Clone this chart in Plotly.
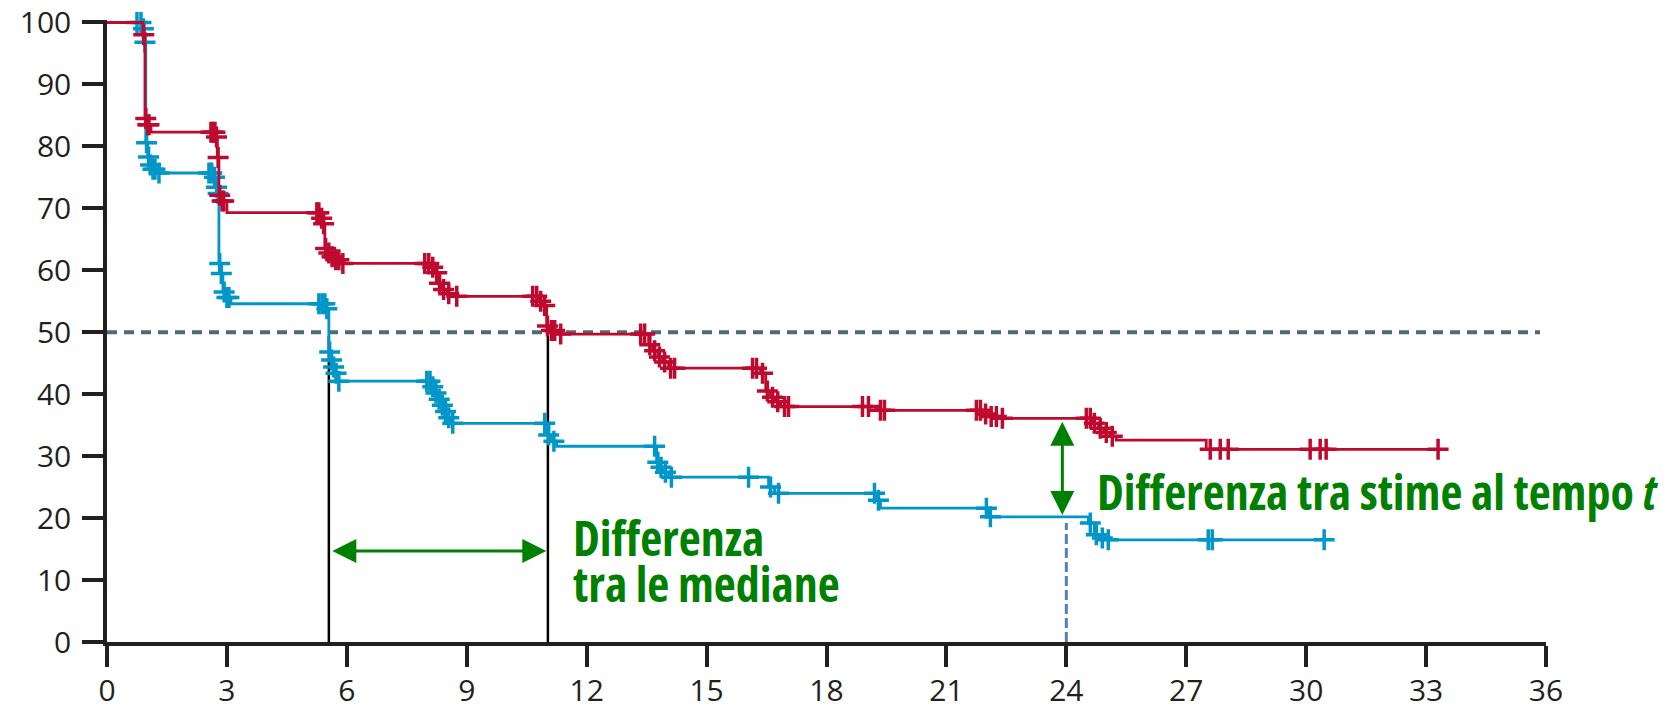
import numpy as np
import plotly.graph_objects as go

# Kaplan-Meier estimates (months vs. % surviving), two arms
red_drop_t = [0.90, 0.95, 1.00, 1.10, 2.72, 2.76, 2.80, 2.85, 3.00,
              5.35, 5.40, 5.45, 5.52, 5.60, 5.68, 5.85,
              8.10, 8.20, 8.28, 8.38, 8.50, 8.65,
              10.80, 10.90, 11.00, 11.08, 11.30,
              13.55, 13.65, 13.78, 13.90, 14.05,
              16.35, 16.48, 16.60, 16.72, 16.85, 19.25,
              21.90, 22.05, 22.30,
              24.65, 24.80, 24.95, 25.10, 25.25, 27.50]
red_level = [98.0, 84.5, 83.5, 82.3, 81.5, 78.2, 72.1, 71.2, 69.3,
             68.4, 67.5, 63.5, 62.8, 62.2, 61.7, 61.1,
             60.5, 59.6, 57.9, 56.9, 56.2, 55.8,
             55.0, 54.3, 51.0, 50.3, 49.7,
             48.0, 47.0, 46.0, 45.2, 44.2,
             43.4, 40.5, 39.5, 38.8, 38.0, 37.4,
             36.8, 36.4, 36.1,
             35.3, 34.5, 33.8, 33.2, 32.6, 31.1]
red_censor_t = [0.92, 0.97, 1.02, 1.05, 2.60, 2.65, 2.70, 2.74, 2.78, 2.82, 2.88, 2.92,
                5.25, 5.30, 5.37, 5.42, 5.47, 5.55, 5.63, 5.72, 5.80, 5.90,
                7.95, 8.05, 8.15, 8.25, 8.32, 8.42, 8.55, 8.75,
                10.65, 10.75, 10.85, 10.95, 11.02, 11.12, 11.20, 11.35,
                13.35, 13.45, 13.58, 13.70, 13.82, 13.95, 14.10, 14.20,
                16.15, 16.25, 16.40, 16.52, 16.65, 16.78, 16.95, 17.05,
                18.90, 19.05, 19.35, 19.45,
                21.75, 21.85, 21.98, 22.12, 22.25, 22.40,
                24.50, 24.60, 24.70, 24.85, 25.00, 25.15,
                27.60, 27.85, 28.05, 30.10, 30.35, 30.50, 33.30]
red_end = 33.30

blue_drop_t = [0.90, 0.93, 0.97, 1.02, 1.07, 1.12, 1.25,
               2.66, 2.72, 2.76, 2.80, 2.84, 2.90, 2.97, 3.10,
               5.48, 5.55, 5.60, 5.65, 5.70, 5.77,
               8.12, 8.20, 8.28, 8.36, 8.44, 8.52, 8.60,
               11.02, 11.12, 11.25,
               13.75, 13.82, 13.92, 14.05,
               16.55, 16.70, 19.25, 19.35, 22.05,
               24.55, 24.70, 24.85, 25.00]
blue_level = [99.0, 96.8, 80.6, 78.3, 77.0, 76.3, 75.7,
              75.0, 73.4, 72.4, 61.1, 59.5, 56.5, 55.6, 54.6,
              53.8, 46.8, 45.5, 44.4, 43.4, 42.1,
              41.2, 40.2, 39.2, 38.2, 37.2, 36.2, 35.3,
              33.4, 32.4, 31.6,
              29.0, 28.2, 27.4, 26.6,
              25.0, 24.0, 22.9, 21.6, 20.2,
              19.2, 17.3, 16.8, 16.5]
blue_censor_t = [0.75, 0.85, 0.91, 0.95, 0.99, 1.04, 1.09, 1.15, 1.20, 1.30,
                 2.55, 2.62, 2.69, 2.74, 2.78, 2.82, 2.86, 2.93, 3.00, 3.05,
                 5.30, 5.38, 5.45, 5.50, 5.57, 5.62, 5.67, 5.73, 5.80,
                 8.00, 8.08, 8.15, 8.23, 8.31, 8.39, 8.47, 8.55, 8.65,
                 10.95, 11.05, 11.18,
                 13.70, 13.78, 13.86, 13.97, 14.12,
                 16.05, 16.60, 16.80, 19.20, 19.30, 22.00, 22.10,
                 24.60, 24.75, 24.90, 25.05, 27.55, 27.65, 30.45]
blue_end = 30.45

median_months = [5.55, 11.03]   # blue, red
t_compare = 24.0

x_ticks = list(range(0, 37, 3))
y_ticks = list(range(0, 101, 10))

RED = "#BE0A2E"
BLUE = "#0096C8"
GREEN = "#008000"
AXIS = "#231F20"


def km_at(times, levels, t):
    idx = np.searchsorted(np.asarray(times), t, side="right") - 1
    return 100.0 if idx < 0 else levels[idx]


def step_xy(times, levels, end):
    xs = [0.0] + list(times) + [end]
    ys = [100.0] + list(levels) + [levels[-1]]
    return xs, ys


def condensed(s):
    # Open Sans ships a condensed width: select it for the callout labels
    return f'<span style="font-stretch:75%;">{s}</span>'


fig = go.Figure()

# reference line at 50 %
fig.add_trace(go.Scatter(x=[0, 35.85], y=[50, 50], mode="lines",
                         line=dict(color="#4E6B75", width=4, dash="10px,7px"),
                         hoverinfo="skip", showlegend=False))

# median drop lines
for m in median_months:
    fig.add_trace(go.Scatter(x=[m, m], y=[0, 49.4], mode="lines",
                             line=dict(color="black", width=2.5),
                             hoverinfo="skip", showlegend=False))

# estimates at time t: dashed drop line from the lower curve
blue_t = km_at(blue_drop_t, blue_level, t_compare)
red_t = km_at(red_drop_t, red_level, t_compare)
fig.add_trace(go.Scatter(x=[t_compare, t_compare], y=[0, blue_t - 1.0], mode="lines",
                         line=dict(color="#4F81BD", width=3, dash="10px,4px"),
                         hoverinfo="skip", showlegend=False))

for times, levels, end, cens, col in [
    (blue_drop_t, blue_level, blue_end, blue_censor_t, BLUE),
    (red_drop_t, red_level, red_end, red_censor_t, RED),
]:
    xs, ys = step_xy(times, levels, end)
    fig.add_trace(go.Scatter(x=xs, y=ys, mode="lines", line=dict(color=col, width=2.8, shape="hv"),
                             hoverinfo="skip", showlegend=False))
    cy = [km_at(times, levels, c) for c in cens]
    fig.add_trace(go.Scatter(x=cens, y=cy, mode="markers",
                             marker=dict(symbol="cross-thin", size=15, line=dict(color=col, width=3.5)),
                             cliponaxis=False, hoverinfo="skip", showlegend=False))

# difference between medians
fig.add_annotation(x=median_months[1] - 0.04, y=14.7, ax=median_months[0] + 0.05, ay=14.7,
                   xref="x", yref="y", axref="x", ayref="y", text="", showarrow=True,
                   arrowside="end+start", arrowhead=2, startarrowhead=2,
                   arrowsize=1.6, startarrowsize=1.6, arrowwidth=3, arrowcolor=GREEN)
# difference between estimates at time t
fig.add_annotation(x=t_compare - 0.1, y=blue_t + 0.3, ax=t_compare - 0.1, ay=red_t - 0.3,
                   xref="x", yref="y", axref="x", ayref="y", text="", showarrow=True,
                   arrowside="end+start", arrowhead=2, startarrowhead=2,
                   arrowsize=1.6, startarrowsize=1.6, arrowwidth=3, arrowcolor=GREEN)

label_font = dict(family="Open Sans, sans-serif", size=48, color=GREEN, weight="bold")
fig.add_annotation(x=11.62, y=16.9, xref="x", yref="y", text=condensed("Differenza"),
                   showarrow=False, xanchor="left", yanchor="middle", font=label_font)
fig.add_annotation(x=11.62, y=9.5, xref="x", yref="y", text=condensed("tra le mediane"),
                   showarrow=False, xanchor="left", yanchor="middle", font=label_font)
fig.add_annotation(x=24.72, y=24.35, xref="x", yref="y",
                   text=condensed("Differenza tra stime al tempo <i>t</i>"), showarrow=False,
                   xanchor="left", yanchor="middle", font=label_font)

tick_font = dict(family="Open Sans, Noto Sans, sans-serif", size=30, color=AXIS)
fig.update_xaxes(range=[0, 36], tickvals=x_ticks, ticktext=[str(v) for v in x_ticks],
                 showgrid=False, zeroline=False, showline=True, linecolor=AXIS, linewidth=3.5,
                 ticks="outside", ticklen=21, tickwidth=3.5, tickcolor=AXIS, tickfont=tick_font,
                 ticklabelstandoff=-2, automargin=False)
fig.update_yaxes(range=[0, 100.4], tickvals=y_ticks, ticktext=[str(v) for v in y_ticks],
                 showgrid=False, zeroline=False, showline=True, linecolor=AXIS, linewidth=3.5,
                 ticks="outside", ticklen=21, tickwidth=3.5, tickcolor=AXIS, tickfont=tick_font,
                 ticklabelstandoff=5, automargin=False)

fig.update_layout(width=1670, height=710, autosize=False,
                  margin=dict(l=107, r=124, t=20, b=68, pad=0, autoexpand=False),
                  plot_bgcolor="white", paper_bgcolor="white", showlegend=False)

fig.write_html("out.html")
